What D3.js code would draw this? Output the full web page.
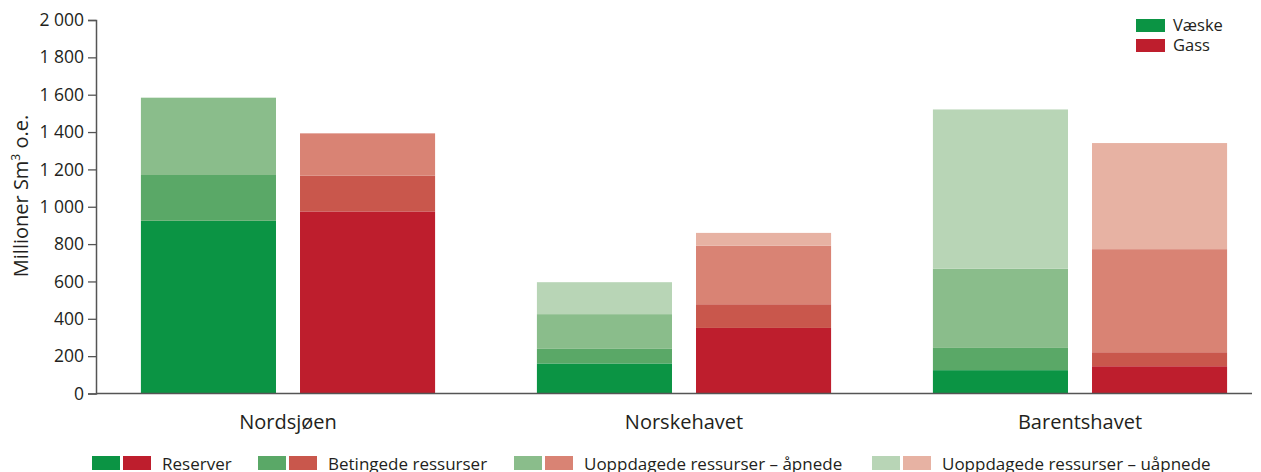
<!DOCTYPE html>
<html>
<head>
<meta charset="utf-8">
<script src="https://cdn.jsdelivr.net/npm/d3@7"></script>
<style>
  body { margin: 0; background: #fff; }
  svg { font-family: "Open Sans", sans-serif; }
</style>
</head>
<body>
<svg id="chart" width="1261" height="472"></svg>
<script>
// regions and fluids
const regions = ['Nordsjøen', 'Norskehavet', 'Barentshavet']
const fluids = ['Væske', 'Gass']
const layers = ['Reserver', 'Betingede ressurser', 'Uoppdagede ressurser – åpnede', 'Uoppdagede ressurser – uåpnede']

// values per region, millioner Sm3 o.e.
const vaeskeReserver   = [925, 161, 125]
const vaeskeBetingede  = [245, 78, 119]
const vaeskeApnede     = [414, 186, 424]
const vaeskeUapnede    = [0, 171, 853]

const gassReserver     = [975, 351, 146]
const gassBetingede    = [191, 127, 75]
const gassApnede       = [227, 313, 552]
const gassUapnede      = [0, 69, 568]

const yTicks = [0, 200, 400, 600, 800, 1000, 1200, 1400, 1600, 1800, 2000]

const colors = {
    'Væske': ['#0b9444', '#5aa867', '#8abd8b', '#b8d5b6'],
    'Gass':  ['#be1e2d', '#c9574c', '#d98374', '#e7b2a3']
}

const series = {
    'Væske': [vaeskeReserver, vaeskeBetingede, vaeskeApnede, vaeskeUapnede],
    'Gass':  [gassReserver, gassBetingede, gassApnede, gassUapnede]
}

const svg = d3.select('#chart')

const x = d3.scaleBand().domain(regions).range([90, 1278])
const xi = d3.scaleBand().domain(fluids).range([0, x.bandwidth()])
    .paddingInner(0.151).paddingOuter(0.32)
const y = d3.scaleLinear().domain([0, 2000]).range([393.5, 20])

const fmt = d3.formatLocale({ decimal: ',', thousands: ' ', grouping: [3], currency: ['', ''] }).format(',d')

// build rows for stacking
let rows = []
regions.forEach((r, ri) => {
    fluids.forEach(f => {
        let base = 0
        series[f].forEach((arr, li) => {
            const v = arr[ri]
            rows.push({ region: r, fluid: f, layer: li, y0: base, y1: base + v })
            base += v
        })
    })
})

svg.append('g').selectAll('rect')
    .data(rows.filter(d => d.y1 > d.y0))
    .enter()
    .append('rect')
    .attr('x', d => x(d.region) + xi(d.fluid))
    .attr('width', xi.bandwidth())
    .attr('y', d => y(d.y1))
    .attr('height', d => y(d.y0) - y(d.y1))
    .attr('fill', d => colors[d.fluid][d.layer])

// y axis
const yAxis = svg.append('g')
    .attr('transform', 'translate(96,0)')
    .call(d3.axisLeft(y).tickValues(yTicks).tickSize(8).tickPadding(4).tickFormat(fmt))
yAxis.select('.domain').attr('stroke', '#555').attr('stroke-width', 1.5)
yAxis.selectAll('.tick line').attr('stroke', '#555').attr('stroke-width', 1.3)
yAxis.selectAll('.tick text').attr('font-size', 17.5).attr('fill', '#231f20').attr('font-family', '"Open Sans", sans-serif')

// x axis line
svg.append('line')
    .attr('x1', 96).attr('x2', 1252)
    .attr('y1', y(0)).attr('y2', y(0))
    .attr('stroke', '#555').attr('stroke-width', 1.5)

svg.selectAll('text.cat')
    .data(regions)
    .enter()
    .append('text')
    .attr('class', 'cat')
    .attr('x', d => x(d) + x.bandwidth() / 2)
    .attr('y', 429)
    .attr('text-anchor', 'middle')
    .attr('font-size', 20)
    .attr('fill', '#231f20')
    .text(d => d)

// y title
svg.append('text')
    .attr('transform', 'translate(28,196) rotate(-90)')
    .attr('text-anchor', 'middle')
    .attr('font-size', 20)
    .attr('fill', '#231f20')
    .html('Millioner Sm<tspan baseline-shift="super" font-size="12">3</tspan> o.e.')

// fluid legend top right
const topLeg = svg.append('g').attr('transform', 'translate(1136,19)')
fluids.forEach((f, i) => {
    topLeg.append('rect').attr('x', 0).attr('y', i * 20).attr('width', 29).attr('height', 13)
        .attr('fill', colors[f][0])
    topLeg.append('text').attr('x', 37).attr('y', i * 20 + 12)
        .attr('font-size', 16.5).attr('fill', '#231f20').text(f)
})

// layer legend bottom
const legX = [92, 258, 514, 872]
layers.forEach((l, i) => {
    const g = svg.append('g').attr('transform', `translate(${legX[i]},456)`)
    g.append('rect').attr('x', 0).attr('y', 0).attr('width', 28).attr('height', 14).attr('fill', colors['Væske'][i])
    g.append('rect').attr('x', 31).attr('y', 0).attr('width', 28).attr('height', 14).attr('fill', colors['Gass'][i])
    g.append('text').attr('x', 70).attr('y', 14).attr('font-size', 17).attr('fill', '#231f20').text(l)
})
</script>
</body>
</html>
